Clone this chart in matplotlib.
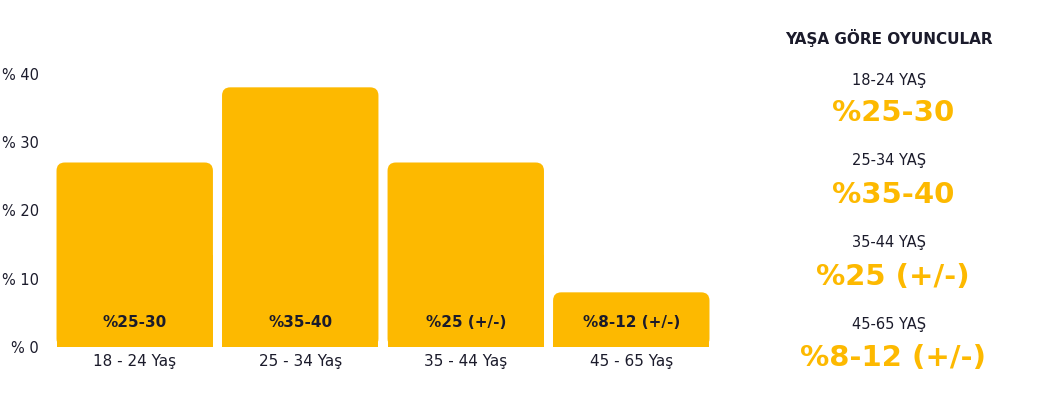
import numpy as np
import matplotlib.pyplot as plt
from matplotlib.patches import FancyBboxPatch

# data
categories = ["18 - 24 Yaş", "25 - 34 Yaş", "35 - 44 Yaş", "45 - 65 Yaş"]
values = [27, 38, 27, 8]
bar_labels = ["%25-30", "%35-40", "%25 (+/-)", "%8-12 (+/-)"]
yticks = [0, 10, 20, 30, 40]
ytick_labels = ["% 0", "% 10", "% 20", "% 30", "% 40"]

side_title = "YAŞA GÖRE OYUNCULAR"
side_groups = ["18-24 YAŞ", "25-34 YAŞ", "35-44 YAŞ", "45-65 YAŞ"]
side_values = ["%25-30", "%35-40", "%25 (+/-)", "%8-12 (+/-)"]

yellow = "#FDB900"
dark = "#1b1b2b"

plt.rcParams['font.family'] = ['DejaVu Sans']

fig = plt.figure(figsize=(10.38, 3.93), dpi=100)
fig.patch.set_facecolor('white')
W, H = 1038, 393
ax = fig.add_axes([47 / W, (H - 347) / H, (719 - 47) / W, (347 - 60) / H])

x = np.arange(len(categories))
width = 0.945
bars = ax.bar(x, values, width=width, color=yellow, alpha=0)

# rounded top corners
r = 0.05
aspect = (8 / 6.825) / (8 / 165.5)
for b in bars:
    x0, w, h = b.get_x(), b.get_width(), b.get_height()
    rp = FancyBboxPatch((x0 + r, r * aspect), w - 2 * r, h - 2 * r * aspect,
                        boxstyle=f"round,pad={r}", mutation_aspect=aspect,
                        facecolor=yellow, edgecolor='none')
    ax.add_patch(rp)
    ax.add_patch(plt.Rectangle((x0, 0), w, h / 2, facecolor=yellow,
                               edgecolor='none'))

for xi, lab in zip(x, bar_labels):
    ax.text(xi, 3.6, lab, ha='center', va='center', fontsize=11,
            fontweight='bold', color=dark)

ax.set_xlim(-0.53, 3.53)
ax.set_ylim(0, 42)
ax.set_yticks(yticks)
ax.set_yticklabels(ytick_labels, fontsize=10.5, color=dark)
ax.set_xticks(x)
ax.set_xticklabels(categories, fontsize=11, color=dark)
ax.tick_params(length=0, pad=5)
ax.tick_params(axis='y', pad=6)
for s in ax.spines.values():
    s.set_visible(False)

# right side panel
cx = 889 / W
fig.text(cx, 1 - 38 / H, side_title, ha='center', va='center',
         fontsize=11, fontweight='bold', color=dark)
sub_y = [80, 160, 243, 324]
val_y = [113, 195, 277, 358]
for g, v, sy, vy in zip(side_groups, side_values, sub_y, val_y):
    fig.text(cx, 1 - sy / H, g, ha='center', va='center', fontsize=10.5,
             color=dark)
    fig.text(cx + 4 / W, 1 - vy / H, v, ha='center', va='center', fontsize=21,
             fontweight='bold', color=yellow)

fig.savefig("out.png", dpi=100)
